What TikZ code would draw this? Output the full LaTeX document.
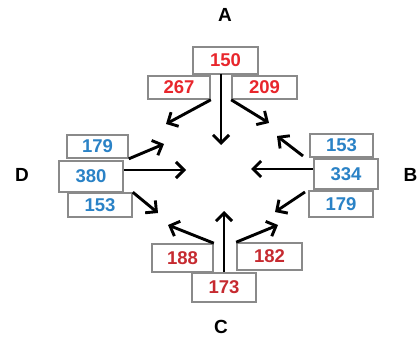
\documentclass[tikz,border=0pt]{standalone}
\usepackage{fontspec}
\setmainfont{Liberation Sans}
\usetikzlibrary{arrows.meta}
\definecolor{numred}{HTML}{E8262C}
\definecolor{numdark}{HTML}{C62A30}
\definecolor{numblue}{HTML}{2A82C6}
\definecolor{boxgray}{HTML}{8A8A8A}
\begin{document}
\begin{tikzpicture}[x=1pt,y=-1pt,
  numbox/.style={draw=boxgray,line width=1.6pt,fill=white,inner sep=0pt,
    font=\fontsize{18.5}{18.5}\selectfont\bfseries},
  side/.style={font=\fontsize{19}{19}\selectfont\bfseries},
  flow/.style={line width=2.9pt,-{Straight Barb[length=8pt,width=16pt,line width=2.9pt]}}]
\useasboundingbox (0,0) rectangle (418,345);

% compass letters
\node[side] (la) at (225,15) {A};
\node[side] (lb) at (410.5,175) {B};
\node[side] (lc) at (221,327) {C};
\node[side] (ld) at (22,175) {D};

% group A (top)
\node[numbox,text=numred,minimum width=65pt,minimum height=27pt] (a0) at (225.5,60.5) {150};
\node[numbox,text=numred,minimum width=62pt,minimum height=23pt] (a1) at (179,87.5) {267};
\node[numbox,text=numred,minimum width=65pt,minimum height=23pt] (a2) at (264.5,87.5) {209};
\coordinate (ta0) at (221,145);
\coordinate (ta1) at (166,124);
\coordinate (ta2) at (269,123);
\draw[flow] (221,74) -- (ta0);
\draw[flow] (a1.south east) -- (ta1);
\draw[flow] (a2.south west) -- (ta2);

% group D (left)
\node[numbox,text=numblue,minimum width=61pt,minimum height=23pt] (d1) at (97.5,146.5) {179};
\node[numbox,text=numblue,minimum width=64pt,minimum height=31pt] (d0) at (91,176.5) {380};
\node[numbox,text=numblue,minimum width=64pt,minimum height=24pt] (d2) at (100,205) {153};
\coordinate (td0) at (186,170);
\coordinate (td1) at (164,144);
\coordinate (td2) at (158,213);
\draw[flow] (d0.east |- 0,170) -- (td0);
\draw[flow] (d1.south east) -- (td1);
\draw[flow] (d2.north east) -- (td2);

% group B (right)
\node[numbox,text=numblue,minimum width=63pt,minimum height=23pt] (b1) at (341.5,145.5) {153};
\node[numbox,text=numblue,minimum width=64pt,minimum height=30pt] (b0) at (346,174) {334};
\node[numbox,text=numblue,minimum width=64pt,minimum height=26pt] (b2) at (341,204) {179};
\coordinate (tb0) at (251,169);
\coordinate (tb1) at (277,136);
\coordinate (tb2) at (275,212);
\draw[flow] (b0.west |- 0,169) -- (tb0);
\draw[flow] (303,156) -- (tb1);
\draw[flow] (305,192) -- (tb2);

% group C (bottom)
\node[numbox,text=numdark,minimum width=61pt,minimum height=28pt] (c1) at (182.5,258) {188};
\node[numbox,text=numdark,minimum width=65pt,minimum height=27pt] (c2) at (269.5,256.5) {182};
\node[numbox,text=numdark,minimum width=64pt,minimum height=29pt] (c0) at (224,287.5) {173};
\coordinate (tc0) at (224,211);
\coordinate (tc1) at (168,225);
\coordinate (tc2) at (278,225);
\draw[flow] (c0.north) -- (tc0);
\draw[flow] (c1.north east) -- (tc1);
\draw[flow] (c2.north west) -- (tc2);
\end{tikzpicture}
\end{document}
